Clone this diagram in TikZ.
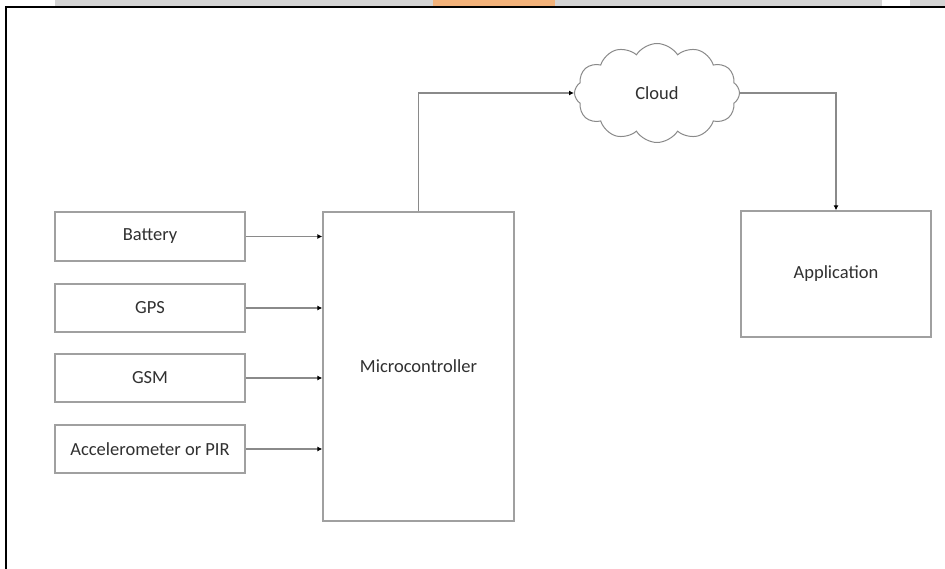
\documentclass[tikz,border=0pt]{standalone}
\usepackage{fontspec}
\setmainfont{Carlito}
\usetikzlibrary{shapes.symbols,arrows.meta}
\definecolor{boxline}{HTML}{A0A0A0}
\definecolor{conline}{HTML}{8A8A8A}
\definecolor{txt}{HTML}{303030}
\definecolor{band}{HTML}{D4D4D4}
\definecolor{bandorange}{HTML}{F2B27A}
\begin{document}
\begin{tikzpicture}[x=1pt,y=-1pt,
  blockbox/.style={draw=boxline,line width=1.3pt,fill=white,rectangle,inner sep=0pt,
    font=\fontsize{18.5}{20}\selectfont,text=txt},
  conn/.style={draw=conline,line width=1.1pt,-{Latex[length=5pt,width=5pt,color=black]}},
  frameline/.style={draw=black,line width=2.2pt}]
\useasboundingbox (0,0) rectangle (945,569);
% top band
\fill[band] (55,0) rectangle (945,6);
\fill[white] (882,0) rectangle (910,6);
\fill[bandorange] (433,0) rectangle (555,6);
% frame
\draw[frameline] (6,569) -- (6,7) -- (945,7);
% nodes
\node[blockbox,minimum width=190pt,minimum height=49pt] (bat) at (150,236.5) {Battery};
\node[blockbox,minimum width=190pt,minimum height=48pt] (gps) at (150,308) {GPS};
\node[blockbox,minimum width=190pt,minimum height=48pt] (gsm) at (150,378) {GSM};
\node[blockbox,minimum width=190pt,minimum height=48pt] (acc) at (150,449) {Accelerometer or PIR};
\node[blockbox,minimum width=191pt,minimum height=309pt] (mcu) at (418.5,366.5) {Microcontroller};
\node[blockbox,minimum width=190pt,minimum height=126pt] (app) at (836,274) {Application};
\node[blockbox,cloud,cloud puffs=12,cloud puff arc=115,aspect=1.65,
  minimum width=165pt,minimum height=99pt,line width=1pt,draw=conline] (cloud) at (657,93) {Cloud};
% connectors
\draw[conn] (bat.east) -- (bat.east -| mcu.west);
\draw[conn] (gps.east) -- (gps.east -| mcu.west);
\draw[conn] (gsm.east) -- (gsm.east -| mcu.west);
\draw[conn] (acc.east) -- (acc.east -| mcu.west);
\draw[conn] (mcu.north) |- (cloud.west);
\draw[conn] (cloud.east) -| (app.north);
\end{tikzpicture}
\end{document}
